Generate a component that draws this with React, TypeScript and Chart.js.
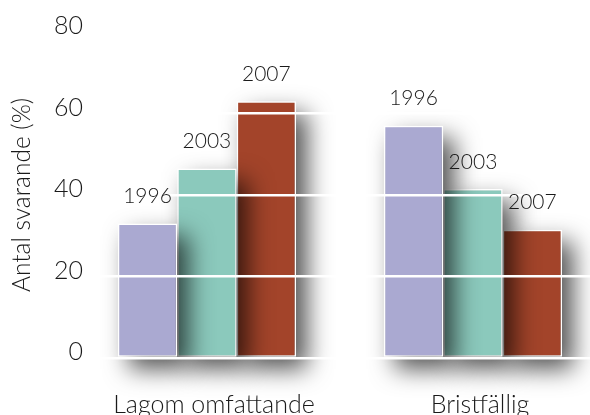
import { useEffect, useRef } from "react";
import { Chart, registerables } from "chart.js";
Chart.register(...registerables);

const categories = ["Lagom omfattande", "Bristfällig"];
const years = ["1996", "2003", "2007"];
const values1996 = [33, 57];
const values2003 = [46.5, 41.5];
const values2007 = [63, 31.5];
const seriesValues = [values1996, values2003, values2007];
const yTicks = [0, 20, 40, 60, 80];
const colors = ["#aaa9d1", "#8bc9bc", "#a3442a"];

const FONT = "Lato";

const shadowPlugin = {
  id: "barShadow",
  beforeDatasetDraw(chart: any, args: any) {
    const ctx = chart.ctx;
    const off = 10000;
    ctx.save();
    ctx.shadowColor = "rgba(0,0,0,0.68)";
    ctx.shadowBlur = 24;
    ctx.shadowOffsetX = 11 + off;
    ctx.shadowOffsetY = 12;
    ctx.fillStyle = "#000";
    args.meta.data.forEach((el: any) => {
      const { x, y, base, width } = el.getProps(["x", "y", "base", "width"], true);
      ctx.fillRect(x - width / 2 - off, Math.min(y, base), width, Math.abs(base - y));
    });
    ctx.restore();
  },
};

const yearLabelPlugin = {
  id: "yearLabels",
  afterDraw(chart: any) {
    const ctx = chart.ctx;
    ctx.save();
    ctx.font = `300 21px ${FONT}`;
    ctx.fillStyle = "#1a1a1a";
    ctx.textAlign = "center";
    ctx.textBaseline = "middle";
    chart.data.datasets.forEach((_ds: any, di: number) => {
      const meta = chart.getDatasetMeta(di);
      meta.data.forEach((el: any) => {
        ctx.fillText(years[di], el.x, el.y - 27);
      });
    });
    ctx.restore();
  },
};

export default function App() {
  const ref = useRef<HTMLCanvasElement>(null);
  useEffect(() => {
    if (!ref.current) return;
    const chart = new Chart(ref.current, {
      type: "bar",
      data: {
        datasets: seriesValues.map((vals, di) => ({
          label: years[di],
          data: vals.map((v, i) => ({ x: i, y: v })),
          backgroundColor: colors[di],
          borderColor: "#ffffff",
          borderWidth: 1.5,
          borderSkipped: false,
          categoryPercentage: 0.67,
          barPercentage: 1.0,
        })),
      },
      options: {
        animation: false,
        responsive: false,
        layout: { padding: { top: 32, left: 0, right: 0, bottom: 0 } },
        plugins: { legend: { display: false }, tooltip: { enabled: false } },
        scales: {
          x: {
            type: "linear",
            offset: false,
            min: -0.402,
            max: 1.44,
            grid: { display: false },
            border: { display: false },
            afterBuildTicks: (scale: any) => {
              scale.ticks = categories.map((_c, i) => ({ value: i }));
            },
            afterFit: (scale: any) => {
              scale.height = 57;
            },
            ticks: {
              callback: (v: any) => categories[v as number] ?? "",
              font: { family: FONT, size: 25, weight: 300 },
              color: "#1a1a1a",
              padding: 24,
              labelOffset: 7,
              maxRotation: 0,
            },
          },
          y: {
            min: 0,
            max: 80,
            afterBuildTicks: (scale: any) => {
              scale.ticks = yTicks.map((v) => ({ value: v }));
            },
            afterFit: (scale: any) => {
              scale.width = 100;
            },
            grid: {
              z: 1,
              color: "#ffffff",
              lineWidth: 2.5,
              drawTicks: true,
              tickLength: 10,
              tickColor: "#ffffff",
            },
            border: { display: false },
            ticks: {
              font: { family: FONT, size: 25, weight: 300 },
              color: "#1a1a1a",
              padding: 7,
              labelOffset: -6,
            },
            title: {
              display: true,
              text: "Antal svarande (%)",
              font: { family: FONT, size: 24.5, weight: 300 },
              color: "#1a1a1a",
              padding: { top: 7, bottom: 0 },
            },
          },
        },
      },
      plugins: [shadowPlugin, yearLabelPlugin],
    } as any);
    return () => chart.destroy();
  }, []);
  return (
    <div style={{ position: "fixed", left: 0, top: 0, width: 590, height: 415, background: "#fff" }}>
      <canvas ref={ref} width={590} height={415} style={{ display: "block" }} />
    </div>
  );
}
